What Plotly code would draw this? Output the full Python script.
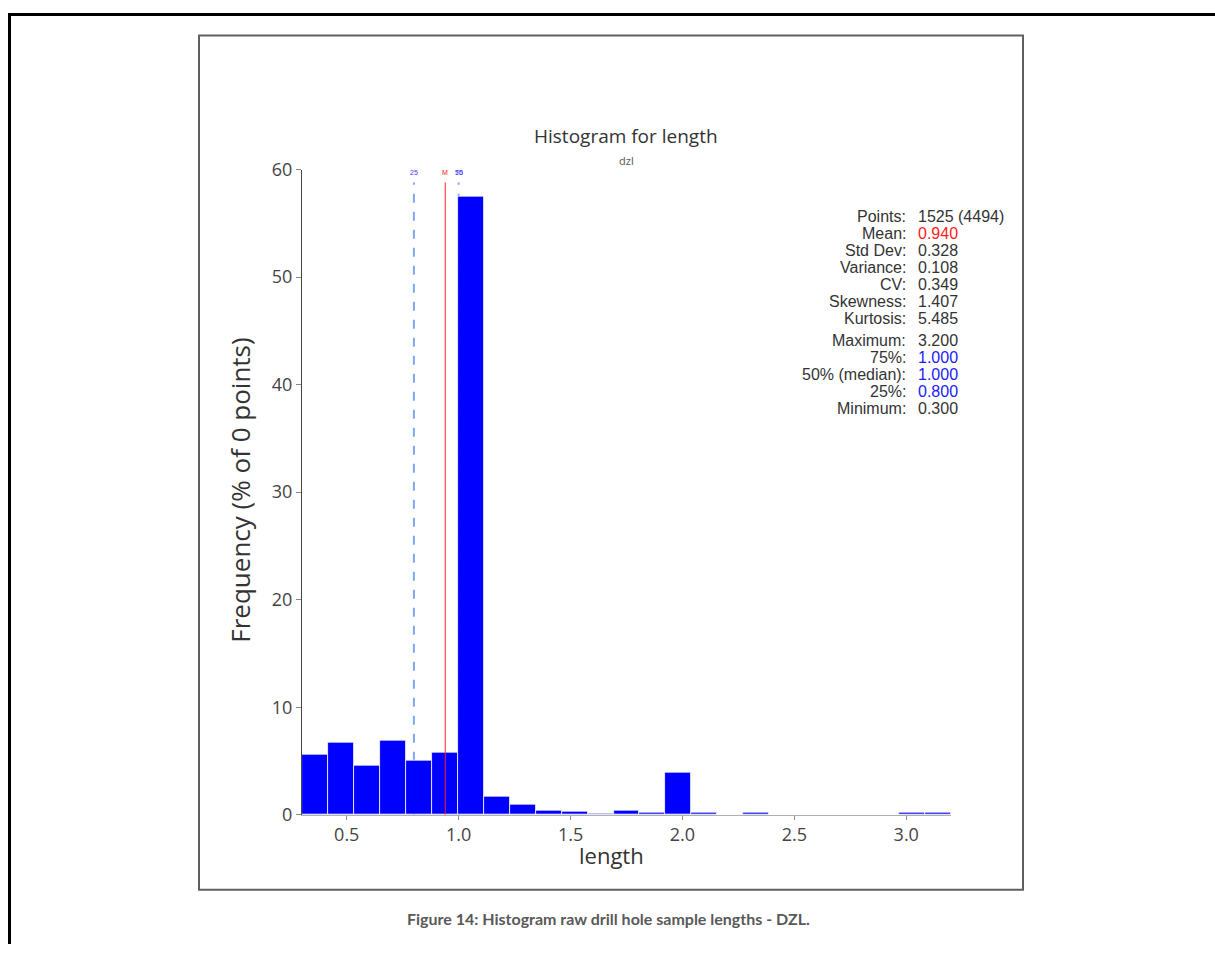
import numpy as np
import plotly.graph_objects as go

# Histogram of sample lengths (percent of samples per bin)
bin_min = 0.3
bin_max = 3.2
n_bins = 25
freq_pct = [5.6, 6.7, 4.6, 6.9, 5.05, 5.8, 57.5, 1.7, 0.93, 0.37, 0.31, 0.16, 0.37,
            0.19, 3.95, 0.25, 0.0, 0.25, 0.0, 0.0, 0.0, 0.0, 0.0, 0.25, 0.25]

# Summary statistics shown beside the histogram
stat_labels = ["Points:", "Mean:", "Std Dev:", "Variance:", "CV:", "Skewness:", "Kurtosis:",
               "Maximum:", "75%:", "50% (median):", "25%:", "Minimum:"]
stat_values = ["1525 (4494)", "0.940", "0.328", "0.108", "0.349", "1.407", "5.485",
               "3.200", "1.000", "1.000", "0.800", "0.300"]
stat_colors = ["#333333", "#ff2020", "#333333", "#333333", "#333333", "#333333", "#333333",
               "#333333", "#2020ff", "#2020ff", "#2020ff", "#333333"]

# Reference lines
mean_val = 0.940
p25_val = 0.800
p50_val = 1.000
p75_val = 1.000

x_ticks = [0.5, 1.0, 1.5, 2.0, 2.5, 3.0]
y_ticks = [0, 10, 20, 30, 40, 50, 60]

W, H = 1215, 955
# vertical placement of the figure area inside the page (offset, scale)
V_OFF, V_SCALE = 12.5, 0.9745

edges = np.linspace(bin_min, bin_max, n_bins + 1)
centers = (edges[:-1] + edges[1:]) / 2
widths = np.diff(edges)


def px(xp):
    return min(max(xp / W, 0.0), 1.0)


def py(yp):
    yd = (yp - V_OFF) / V_SCALE
    return min(max(1 - yd / H, 0.0), 1.0)


fig = go.Figure()
fig.add_trace(go.Bar(
    x=centers, y=freq_pct, width=widths,
    marker=dict(color="#0000ff", line=dict(color="white", width=0.8)),
    hoverinfo="skip",
))

line_top = 58.8
shapes = [
    # page frame
    dict(type="line", xref="paper", yref="paper", x0=px(9.5), x1=px(9.5), y0=py(8), y1=py(955),
         line=dict(color="black", width=3)),
    dict(type="line", xref="paper", yref="paper", x0=px(8), x1=px(1215), y0=py(14), y1=py(14),
         line=dict(color="black", width=3)),
    # chart frame
    dict(type="rect", xref="paper", yref="paper", x0=px(199), x1=px(1023), y0=py(35), y1=py(889),
         line=dict(color="#606060", width=2)),
    # quartile lines (behind the bars)
    dict(type="line", xref="x", yref="y", x0=p25_val, x1=p25_val, y0=0, y1=line_top, layer="below",
         line=dict(color="#7fa8f0", width=2, dash="dash")),
    dict(type="line", xref="x", yref="y", x0=p50_val, x1=p50_val, y0=0, y1=line_top, layer="below",
         line=dict(color="#7fa8f0", width=2, dash="dash")),
    # mean line
    dict(type="line", xref="x", yref="y", x0=mean_val, x1=mean_val, y0=0, y1=line_top, layer="above",
         line=dict(color="#ff2020", width=1)),
]


def note(text, x, y, size, color, family="Open Sans", xanchor="center", **kw):
    return dict(text=text, xref="paper", yref="paper", x=x, y=y, xanchor=xanchor,
                yanchor="middle", showarrow=False,
                font=dict(family=family, size=size, color=color), **kw)


annotations = [
    note("Histogram for length", px(626), py(135), 19, "#333333"),
    note("dzl", px(626), py(160), 11, "#555555"),
    note("Frequency (% of 0 points)", px(240), py(490), 26, "#333333", textangle=-90),
    note("length", px(612), py(854), 22, "#333333"),
    note("<b>Figure 14: Histogram raw drill hole sample lengths - DZL.</b>", px(608), py(918),
         16, "#595959", family="Lato"),
]
for val, lab, col in [(p25_val, "25", "#4040ff"), (mean_val, "M", "#ff2020"),
                      (p50_val, "50", "#4040ff"), (p75_val, "75", "#4040ff")]:
    annotations.append(dict(text=lab, xref="x", yref="y", x=val, y=59.7, xanchor="center",
                            yanchor="middle", showarrow=False,
                            font=dict(family="Liberation Sans", size=7, color=col)))

row_y = [216, 233, 250, 267, 284, 301, 318, 340, 357, 374, 391, 408]
for lab, val, col, yy in zip(stat_labels, stat_values, stat_colors, row_y):
    annotations.append(note(lab, px(908), py(yy), 16, "#333333",
                            family="Liberation Sans", xanchor="right"))
    annotations.append(note(val, px(916), py(yy), 16, col,
                            family="Liberation Sans", xanchor="left"))

fig.update_layout(
    width=W, height=H, autosize=False,
    margin=dict(l=0, r=0, t=0, b=0, pad=0),
    paper_bgcolor="white", plot_bgcolor="white",
    showlegend=False, bargap=0,
    shapes=shapes, annotations=annotations,
    xaxis=dict(domain=[px(302), px(951)], range=[bin_min, bin_max],
               tickvals=x_ticks, ticktext=[f"{v:.1f}" for v in x_ticks],
               showgrid=False, zeroline=False, showline=True, linecolor="#b0b0b0", linewidth=1,
               ticks="outside", ticklen=4, tickcolor="#888888",
               tickfont=dict(family="Open Sans", size=18, color="#444444")),
    yaxis=dict(domain=[py(814), py(169)], range=[0, 60],
               tickvals=y_ticks,
               showgrid=False, zeroline=False, showline=True, linecolor="#444444", linewidth=1,
               ticks="outside", ticklen=5, tickcolor="#888888",
               tickfont=dict(family="Open Sans", size=18, color="#444444")),
)

fig.write_html("out.html", config={"responsive": False, "displayModeBar": False})
